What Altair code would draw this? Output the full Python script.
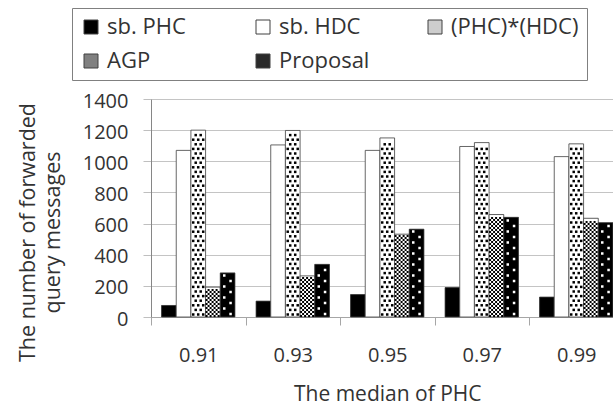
import altair as alt
import pandas as pd

# ---------------- data ----------------
categories = ["0.91", "0.93", "0.95", "0.97", "0.99"]
series_names = ["sb. PHC", "sb. HDC", "(PHC)*(HDC)", "AGP", "Proposal"]
phc = [74, 102, 144, 189, 128]
hdc = [1070, 1105, 1070, 1095, 1030]
phc_hdc = [1200, 1198, 1150, 1120, 1112]
agp = [192, 264, 532, 658, 634]
proposal = [283, 338, 564, 640, 606]
y_ticks = [0, 200, 400, 600, 800, 1000, 1200, 1400]

values_by_series = [phc, hdc, phc_hdc, agp, proposal]

# ---------------- styling ----------------
legend_colors = ["#000000", "#ffffff", "#cdcdcd", "#808080", "#2a2a2a"]
bar_fills = ["#000000", "#ffffff", "#ffffff", "#ffffff", "#000000"]
TEXT = "#333333"
FONT = "Open Sans"

LEFT, TOP, BOTTOM = 151, 99, 92
VIEW_W, VIEW_H = 462, 218
BAND_SPAN = 472.5
PAD_OUTER = 0.72
Y_MAX = 1400

rows = []
for i, c in enumerate(categories):
    for j, s in enumerate(series_names):
        rows.append({"cat": c, "series": s, "value": values_by_series[j][i]})
df = pd.DataFrame(rows)

# ---------------- fill textures (derived from the bar values) ----------------
units_per_px = Y_MAX / VIEW_H
band_px = BAND_SPAN / len(categories)
slots = len(series_names) + 2 * PAD_OUTER


def texture(j, row_px, start_px, even_offs, odd_offs, dot_px):
    pts = []
    for i in range(len(categories)):
        top_px = values_by_series[j][i] / units_per_px
        left = i + (PAD_OUTER + j) / slots
        r = 0
        while True:
            yc = start_px + r * row_px
            if yc + dot_px / 2 > top_px - 0.8:
                break
            for o in (even_offs if r % 2 == 0 else odd_offs):
                pts.append({"tx": left + o / band_px, "ty": yc * units_per_px})
            r += 1
    return pd.DataFrame(pts)


tex_dots = texture(2, 4.6, 2.5, [2.3, 7.3, 12.3], [4.8, 9.8], 2.5)
tex_check = texture(3, 2.0, 1.0, [1.0, 5.0, 9.0, 13.0], [3.0, 7.0, 11.0], 2.0)
tex_white = texture(4, 5.5, 3.0, [10.3], [4.0], 2.5)

# ---------------- axes ----------------
y_axis = alt.Axis(
    values=y_ticks, format="d",
    title=["The number of forwarded", "query messages"],
    titleFont=FONT, titleFontSize=21.5, titleFontWeight="normal", titleColor=TEXT,
    titleAngle=270, titleAlign="center", titleBaseline="alphabetic",
    titleX=-117, titleY=133, titleLineHeight=25,
    labelFont=FONT, labelFontSize=20, labelColor=TEXT, labelPadding=15, labelOffset=2,
    tickSize=8, tickColor="#bfbfbf", gridColor="#c4c4c4", gridWidth=1.2,
    domainColor="#868686", grid=True,
)
x_axis = alt.Axis(
    title="The median of PHC",
    titleFont=FONT, titleFontSize=21, titleFontWeight="normal", titleColor=TEXT,
    titleBaseline="alphabetic", titleY=83,
    labelAngle=0, labelFont=FONT, labelFontSize=20, labelColor=TEXT, labelPadding=20,
    tickBand="extent", tickSize=8, tickColor="#a6a6a6", domainColor="#a6a6a6", grid=False,
)

x_scale = alt.Scale(domain=categories, range=[0, BAND_SPAN], paddingInner=0, paddingOuter=0)
xoff = alt.XOffset("series:N", scale=alt.Scale(domain=series_names, paddingInner=0, paddingOuter=PAD_OUTER))
y_scale = alt.Scale(domain=[0, Y_MAX], nice=False, zero=True)

legend_layer = alt.Chart(df).mark_bar().encode(
    x=alt.X("cat:N", scale=x_scale, axis=None),
    xOffset=xoff,
    y=alt.Y("value:Q", scale=y_scale, axis=y_axis),
    color=alt.Color(
        "series:N",
        scale=alt.Scale(domain=series_names, range=legend_colors),
        legend=alt.Legend(
            title=None, orient="none", legendX=-79, legendY=-91,
            direction="horizontal", columns=3, gridAlign="all",
            symbolType="square", symbolSize=196, symbolStrokeColor="#404040",
            symbolStrokeWidth=1, symbolOpacity=1,
            labelFont=FONT, labelFontSize=22, labelColor=TEXT, labelOffset=5,
            columnPadding=17, rowPadding=12, padding=8, strokeColor="#808080",
        ),
    ),
)

bars = alt.Chart(df).mark_bar(stroke="#404040", strokeWidth=0.8).encode(
    x=alt.X("cat:N", scale=x_scale, axis=x_axis),
    xOffset=xoff,
    y=alt.Y("value:Q", scale=y_scale, axis=y_axis),
    fill=alt.Fill("series:N", scale=alt.Scale(domain=series_names, range=bar_fills), legend=None),
)

tx_scale = alt.Scale(domain=[0, len(categories)], range=[0, BAND_SPAN], nice=False, zero=False)


def tex_layer(data, color, size):
    return alt.Chart(data).mark_square(size=size, color=color, opacity=1, strokeWidth=0).encode(
        x=alt.X("tx:Q", scale=tx_scale, axis=None),
        y=alt.Y("ty:Q", scale=y_scale, axis=y_axis),
    )


chart = alt.layer(
    legend_layer,
    bars,
    tex_layer(tex_dots, "#000000", 6.25),
    tex_layer(tex_check, "#000000", 4.0),
    tex_layer(tex_white, "#ffffff", 6.25),
).resolve_scale(
    x="independent"
).properties(
    width=VIEW_W,
    height=VIEW_H,
    padding={"left": LEFT, "top": TOP, "right": 0, "bottom": BOTTOM},
    autosize=alt.AutoSizeParams(type="none"),
    background="white",
).configure_view(stroke=None)

chart.save("out.html", embed_options={"renderer": "svg", "actions": False})
